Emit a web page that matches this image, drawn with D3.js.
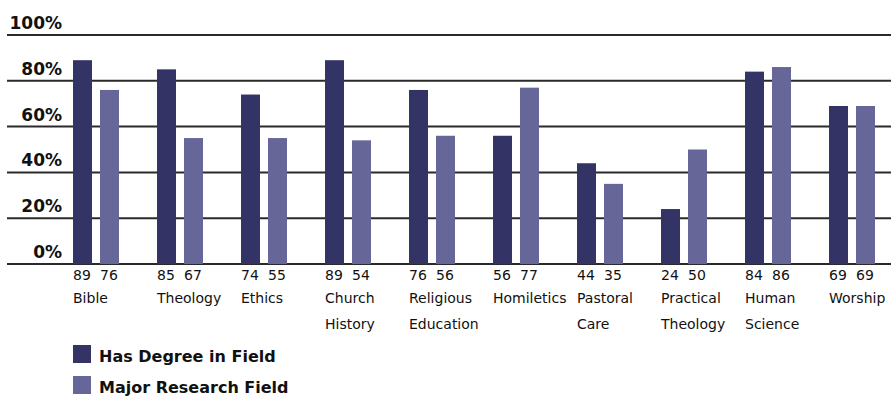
<!DOCTYPE html>
<html>
<head>
<meta charset="utf-8">
<script src="https://cdn.jsdelivr.net/npm/d3@7/dist/d3.min.js"></script>
<style>
  body { margin: 0; background: #fff; }
  text { font-family: "DejaVu Sans", sans-serif; fill: #111; }
</style>
</head>
<body>
<div id="chart"></div>
<script>
// categories (each entry is the lines of the label)
const categories = [
  ["Bible"], ["Theology"], ["Ethics"], ["Church", "History"], ["Religious", "Education"],
  ["Homiletics"], ["Pastoral", "Care"], ["Practical", "Theology"], ["Human", "Science"], ["Worship"]
];
const series = ["Has Degree in Field", "Major Research Field"];
// bar heights as drawn
const hasDegree = [89, 85, 74, 89, 76, 56, 44, 24, 84, 69];
const majorResearch = [76, 55, 55, 54, 56, 77, 35, 50, 86, 69];
// numbers printed under the bars
const hasDegreeLabels = ["89", "85", "74", "89", "76", "56", "44", "24", "84", "69"];
const majorResearchLabels = ["76", "67", "55", "54", "56", "77", "35", "50", "86", "69"];
const yTicks = [0, 20, 40, 60, 80, 100];
const colors = ["#333366", "#666699"];

(function() {
  let dim = {"width": 891, "height": 398};
  let svg = d3.select('#chart').append('svg').attr('width', dim.width).attr('height', dim.height);

  let names = categories.map(d => d.join(" "));
  let scaleX = d3.scaleBand()
    .domain(names)
    .range([73, 73 + 84 * names.length])
    .paddingInner(0)
    .align(0);
  let scaleSub = d3.scaleBand()
    .domain(series)
    .range([0, 46])
    .paddingInner(0.296);
  let scaleY = d3.scaleLinear()
    .domain([0, 100])
    .range([264, 35]);
  let color = d3.scaleOrdinal().domain(series).range(colors);

  // gridlines
  svg.append('g').selectAll('line')
    .data(yTicks)
    .join('line')
    .attr('x1', 7).attr('x2', dim.width)
    .attr('y1', d => scaleY(d)).attr('y2', d => scaleY(d))
    .attr('stroke', '#2a2a2a')
    .attr('stroke-width', 2);

  // tick labels
  svg.append('g').selectAll('text')
    .data(yTicks)
    .join('text')
    .attr('x', 62)
    .attr('y', d => scaleY(d) - 6)
    .attr('text-anchor', 'end')
    .style('font-size', '17px')
    .style('font-weight', 'bold')
    .text(d => d + '%');

  // bars
  let rows = names.map((n, i) => ({name: n, values: [hasDegree[i], majorResearch[i]], labels: [hasDegreeLabels[i], majorResearchLabels[i]], lines: categories[i]}));
  let groups = svg.append('g').selectAll('g')
    .data(rows)
    .join('g')
    .attr('transform', d => `translate(${scaleX(d.name)},0)`);

  groups.selectAll('rect')
    .data(d => series.map((s, j) => ({s: s, v: d.values[j]})))
    .join('rect')
    .attr('x', d => scaleSub(d.s))
    .attr('width', scaleSub.bandwidth())
    .attr('y', d => scaleY(d.v))
    .attr('height', d => scaleY(0) - scaleY(d.v))
    .attr('fill', d => color(d.s));

  groups.selectAll('text.val')
    .data(d => series.map((s, j) => ({s: s, t: d.labels[j]})))
    .join('text')
    .attr('class', 'val')
    .attr('x', d => scaleSub(d.s))
    .attr('y', 280)
    .style('font-size', '14px')
    .text(d => d.t);

  groups.selectAll('text.cat')
    .data(d => d.lines)
    .join('text')
    .attr('class', 'cat')
    .attr('x', 0)
    .attr('y', (d, i) => 303 + i * 26)
    .style('font-size', '14px')
    .text(d => d);

  // legend
  let legend = svg.append('g').selectAll('g')
    .data(series)
    .join('g')
    .attr('transform', (d, i) => `translate(73,${345 + i * 31})`);
  legend.append('rect')
    .attr('width', 18).attr('height', 18)
    .attr('fill', d => color(d));
  legend.append('text')
    .attr('x', 26).attr('y', 17)
    .style('font-size', '16px')
    .style('font-weight', 'bold')
    .text(d => d);
})();
</script>
</body>
</html>
